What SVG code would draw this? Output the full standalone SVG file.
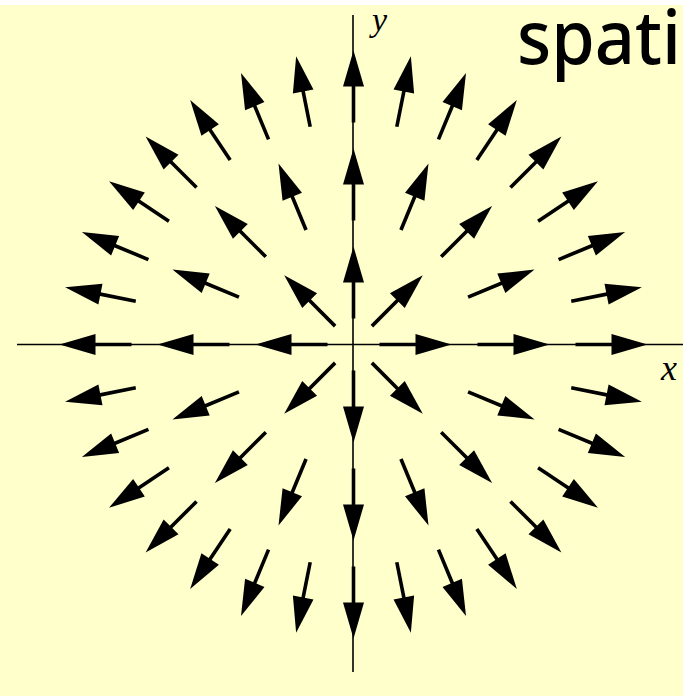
<svg xmlns="http://www.w3.org/2000/svg" xmlns:xlink="http://www.w3.org/1999/xlink" width="683" height="696" viewBox="0 0 683 696">
<style>
.axis{stroke:#000;stroke-width:1.6;fill:none}
.shaft{stroke:#000;stroke-width:3.6;fill:none}
.head{fill:#000}
.lbl{font-family:"Liberation Serif",serif;font-style:italic;fill:#000}
.title{font-family:"Noto Sans","DejaVu Sans",sans-serif;fill:#000;font-weight:500}
</style>
<defs>
<g id="a"><line class="shaft" x1="0" y1="0" x2="40" y2="0"/><polygon class="head" points="72,0 36,-10.5 36,10.5"/></g>
</defs>
<rect x="0" y="0" width="683" height="696" fill="#FFFFCC"/>
<rect x="0" y="0" width="683" height="5" fill="#FFFFFF"/>
<g id="axes">
<line class="axis" x1="17" y1="344.5" x2="683" y2="344.5"/>
<line class="axis" x1="353" y1="15" x2="353" y2="672"/>
</g>
<text class="lbl" x="372" y="31" font-size="34">y</text>
<text class="lbl" x="661" y="380" font-size="36">x</text>
<text class="title" x="517" y="64" font-size="74" textLength="164" lengthAdjust="spacingAndGlyphs">spati</text>
<g id="connectors" transform="translate(353.5 344.5)">
<g id="ring1">
<use xlink:href="#a" transform="rotate(0) translate(26 0)"/>
<use xlink:href="#a" transform="rotate(45) translate(26 0)"/>
<use xlink:href="#a" transform="rotate(90) translate(26 0)"/>
<use xlink:href="#a" transform="rotate(135) translate(26 0)"/>
<use xlink:href="#a" transform="rotate(180) translate(26 0)"/>
<use xlink:href="#a" transform="rotate(225) translate(26 0)"/>
<use xlink:href="#a" transform="rotate(270) translate(26 0)"/>
<use xlink:href="#a" transform="rotate(315) translate(26 0)"/>
</g>
<g id="ring2">
<use xlink:href="#a" transform="rotate(0) translate(124 0)"/>
<use xlink:href="#a" transform="rotate(22.5) translate(124 0)"/>
<use xlink:href="#a" transform="rotate(45) translate(124 0)"/>
<use xlink:href="#a" transform="rotate(67.5) translate(124 0)"/>
<use xlink:href="#a" transform="rotate(90) translate(124 0)"/>
<use xlink:href="#a" transform="rotate(112.5) translate(124 0)"/>
<use xlink:href="#a" transform="rotate(135) translate(124 0)"/>
<use xlink:href="#a" transform="rotate(157.5) translate(124 0)"/>
<use xlink:href="#a" transform="rotate(180) translate(124 0)"/>
<use xlink:href="#a" transform="rotate(202.5) translate(124 0)"/>
<use xlink:href="#a" transform="rotate(225) translate(124 0)"/>
<use xlink:href="#a" transform="rotate(247.5) translate(124 0)"/>
<use xlink:href="#a" transform="rotate(270) translate(124 0)"/>
<use xlink:href="#a" transform="rotate(292.5) translate(124 0)"/>
<use xlink:href="#a" transform="rotate(315) translate(124 0)"/>
<use xlink:href="#a" transform="rotate(337.5) translate(124 0)"/>
</g>
<g id="ring3">
<use xlink:href="#a" transform="rotate(0) translate(222 0)"/>
<use xlink:href="#a" transform="rotate(11.25) translate(222 0)"/>
<use xlink:href="#a" transform="rotate(22.5) translate(222 0)"/>
<use xlink:href="#a" transform="rotate(33.75) translate(222 0)"/>
<use xlink:href="#a" transform="rotate(45) translate(222 0)"/>
<use xlink:href="#a" transform="rotate(56.25) translate(222 0)"/>
<use xlink:href="#a" transform="rotate(67.5) translate(222 0)"/>
<use xlink:href="#a" transform="rotate(78.75) translate(222 0)"/>
<use xlink:href="#a" transform="rotate(90) translate(222 0)"/>
<use xlink:href="#a" transform="rotate(101.25) translate(222 0)"/>
<use xlink:href="#a" transform="rotate(112.5) translate(222 0)"/>
<use xlink:href="#a" transform="rotate(123.75) translate(222 0)"/>
<use xlink:href="#a" transform="rotate(135) translate(222 0)"/>
<use xlink:href="#a" transform="rotate(146.25) translate(222 0)"/>
<use xlink:href="#a" transform="rotate(157.5) translate(222 0)"/>
<use xlink:href="#a" transform="rotate(168.75) translate(222 0)"/>
<use xlink:href="#a" transform="rotate(180) translate(222 0)"/>
<use xlink:href="#a" transform="rotate(191.25) translate(222 0)"/>
<use xlink:href="#a" transform="rotate(202.5) translate(222 0)"/>
<use xlink:href="#a" transform="rotate(213.75) translate(222 0)"/>
<use xlink:href="#a" transform="rotate(225) translate(222 0)"/>
<use xlink:href="#a" transform="rotate(236.25) translate(222 0)"/>
<use xlink:href="#a" transform="rotate(247.5) translate(222 0)"/>
<use xlink:href="#a" transform="rotate(258.75) translate(222 0)"/>
<use xlink:href="#a" transform="rotate(270) translate(222 0)"/>
<use xlink:href="#a" transform="rotate(281.25) translate(222 0)"/>
<use xlink:href="#a" transform="rotate(292.5) translate(222 0)"/>
<use xlink:href="#a" transform="rotate(303.75) translate(222 0)"/>
<use xlink:href="#a" transform="rotate(315) translate(222 0)"/>
<use xlink:href="#a" transform="rotate(326.25) translate(222 0)"/>
<use xlink:href="#a" transform="rotate(337.5) translate(222 0)"/>
<use xlink:href="#a" transform="rotate(348.75) translate(222 0)"/>
</g>
</g>
</svg>
